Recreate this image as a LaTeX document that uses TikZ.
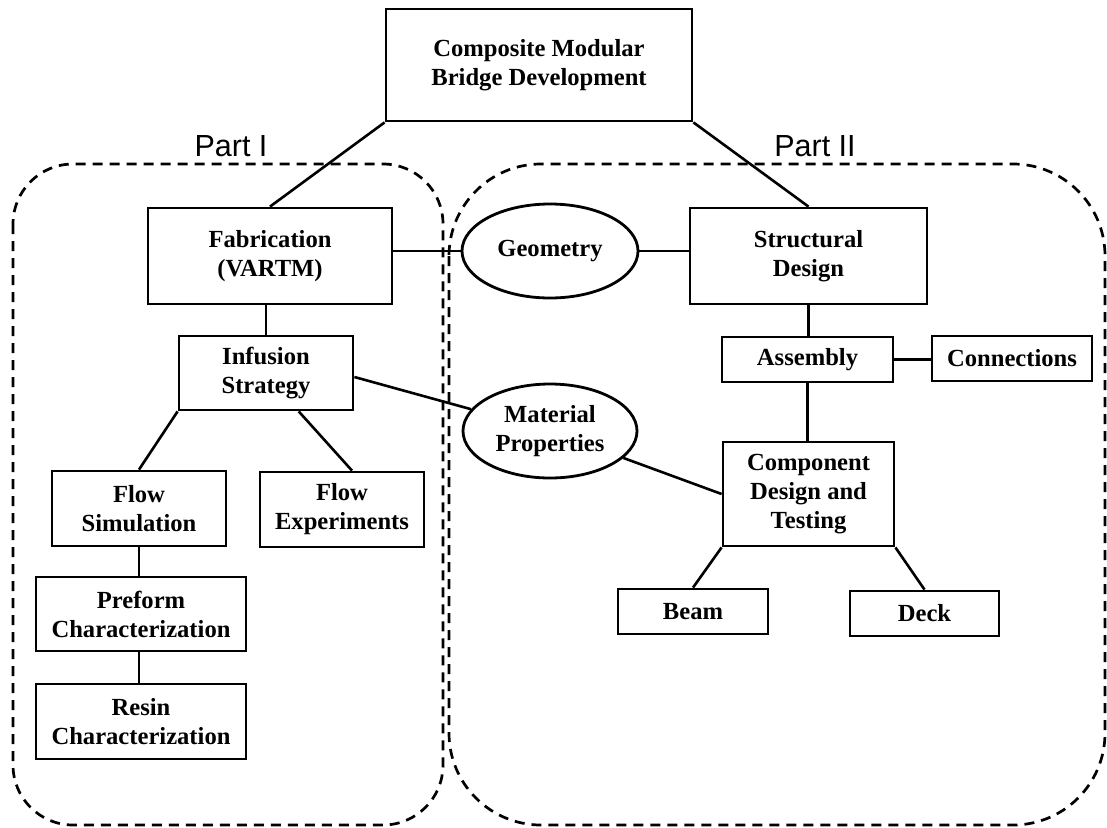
\documentclass[tikz,border=0pt]{standalone}
\usepackage{fontspec}
\setmainfont{Liberation Serif}
\newfontfamily\partfont{Liberation Sans}
\usetikzlibrary{shapes.geometric,calc}
\begin{document}
\begin{tikzpicture}[x=1pt,y=-1pt,
  box/.style={draw,line width=2.8pt,rectangle,inner sep=0pt,align=center,
    font=\fontsize{24.6}{29}\selectfont\bfseries},
  oval/.style={draw,line width=2.8pt,ellipse,inner sep=0pt,align=center,
    font=\fontsize{24.6}{29}\selectfont\bfseries,minimum width=176pt,minimum height=94pt},
  link/.style={line width=2.6pt},
  region/.style={line width=2.7pt,dash pattern=on 10pt off 7pt},
  partlabel/.style={font=\partfont\fontsize{30.5}{36}\selectfont,anchor=base,inner sep=0pt}]
\useasboundingbox[fill=white] (0,0) rectangle (1107,827);

% regions
\draw[region,rounded corners=60pt] (13,164) rectangle (443,825);
\draw[region,rounded corners=92pt] (449,164) rectangle (1105,825);
\node[partlabel] (p1) at (231,156) {Part I};
\node[partlabel] (p2) at (815,156) {Part II};

% nodes
\node[box,minimum width=306pt,minimum height=112pt] (top) at (539,65) {Composite Modular\\Bridge Development};
\node[box,minimum width=244pt,minimum height=96pt] (fab) at (270,256) {Fabrication\\(VARTM)};
\node[oval] (geo) at (550,251) {Geometry};
\node[box,minimum width=237pt,minimum height=96pt] (struct) at (808.5,256) {Structural\\Design};
\node[box,minimum width=174pt,minimum height=74pt] (inf) at (266,373) {Infusion\\Strategy};
\node[oval,minimum width=174pt] (mat) at (550,431) {Material\\Properties};
\node[box,minimum width=171pt,minimum height=45pt] (asm) at (807.5,359.5) {Assembly};
\node[box,minimum width=160pt,minimum height=45pt] (conn) at (1012,358.5) {Connections};
\node[box,minimum width=171pt,minimum height=104pt] (comp) at (808.5,494) {Component\\Design and\\Testing};
\node[box,minimum width=174pt,minimum height=75pt] (fsim) at (139,508.5) {Flow\\Simulation};
\node[box,minimum width=164pt,minimum height=75pt] (fexp) at (342,509.5) {Flow\\Experiments};
\node[box,minimum width=210pt,minimum height=74pt] (pre) at (141,614) {Preform\\Characterization};
\node[box,minimum width=210pt,minimum height=75pt] (resin) at (141,721.5) {Resin\\Characterization};
\node[box,minimum width=150pt,minimum height=45pt] (beam) at (693,611.5) {Beam};
\node[box,minimum width=149pt,minimum height=45pt] (deck) at (924.5,613.5) {Deck};

% connectors
\draw[link] (top.south west) -- (fab.north);
\draw[link] (top.south east) -- (struct.north);
\draw[link] (fab.east |- geo.west) -- (geo.west);
\draw[link] (geo.east) -- (struct.west |- geo.east);
\draw[link] (inf.north) -- (inf.north |- fab.south);
\draw[link] (inf.south west) -- (fsim.north);
\draw[link] ($(inf.south west)!0.685!(inf.south east)$) -- ($(fexp.north west)!0.56!(fexp.north east)$);
\draw[link] ([yshift=-4pt]inf.east) -- (mat);
\draw[link] (mat) -- (comp.west);
\draw[link] (fsim.south) -- (fsim.south |- pre.north);
\draw[link] (fsim.south |- pre.south) -- (fsim.south |- resin.north);
\draw[link] (struct.south) -- (struct.south |- asm.north);
\draw[link] (asm.east) -- (conn.west |- asm.east);
\draw[link] (asm.south) -- (asm.south |- comp.north);
\draw[link] (comp.south west) -- (beam.north);
\draw[link] (comp.south east) -- (deck.north);
\end{tikzpicture}
\end{document}
